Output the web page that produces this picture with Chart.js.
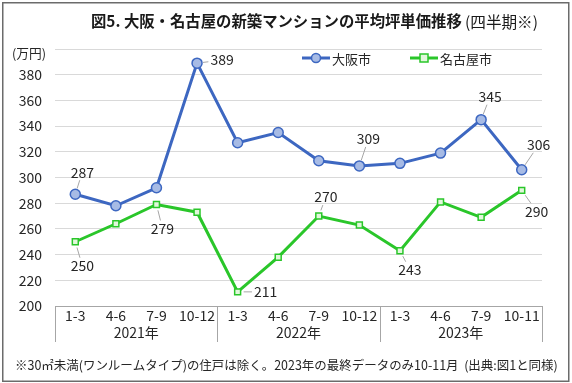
<!DOCTYPE html>
<html>
<head>
<meta charset="utf-8">
<script src="https://cdn.jsdelivr.net/npm/chart.js@4.4.1/dist/chart.umd.min.js"></script>
<style>
html,body{margin:0;padding:0;background:#fff;}
#wrap{width:572px;height:383px;position:relative;}
</style>
</head>
<body>
<div id="wrap"><canvas id="c" width="572" height="383"></canvas></div>
<script>
// ---- data ----
const quarters = ['1-3','4-6','7-9','10-12','1-3','4-6','7-9','10-12','1-3','4-6','7-9','10-11'];
const years = ['2021年','2022年','2023年'];
const osaka = [287, 278, 292, 389, 327, 335, 313, 309, 311, 319, 345, 306];
const nagoya = [250, 264, 279, 273, 211, 238, 270, 263, 243, 281, 269, 290];
const seriesNames = ['大阪市','名古屋市'];
const yTicks = {min:200, max:400, step:20};
const titleMain = '図5. 大阪・名古屋の新築マンションの平均坪単価推移';
const titleSub = '(四半期※)';
const unitLabel = '(万円)';
const footnote = '※30㎡未満(ワンルームタイプ)の住戸は除く。2023年の最終データのみ10-11月  (出典:図1と同様)';

// label placement (index, dx, dy relative to the point)
const osakaLabels = [[0,7,-22],[3,25,-3],[7,9,-27],[10,9,-23],[11,17,-25]];
const nagoyaLabels = [[0,7,24],[2,6,24],[4,28,0],[6,7,-19],[8,10,19],[11,15,21]];

const FONT = '"Noto Sans CJK JP", "Noto Sans", sans-serif';
const BLUE = '#3d67c1', BLUE_FILL = '#a7bbe5';
const GREEN = '#2ac62a', GREEN_FILL = '#e2f7dc';
const TXT = '#262626';

function drawFit(ctx, text, x, y, w, base, weight, color){
  ctx.font = weight + ' ' + base + 'px ' + FONT;
  const m = ctx.measureText(text).width;
  const s = base * w / m;
  ctx.font = weight + ' ' + s.toFixed(2) + 'px ' + FONT;
  ctx.fillStyle = color;
  ctx.textAlign = 'left';
  ctx.textBaseline = 'middle';
  ctx.fillText(text, x, y);
}

const deco = {
  id:'deco',
  afterDraw(chart){
    const ctx = chart.ctx;
    const xs = chart.scales.x, ys = chart.scales.y;
    const ca = chart.chartArea;
    ctx.save();
    // frame
    ctx.strokeStyle = '#6b6b6b';
    ctx.lineWidth = 1.5;
    ctx.strokeRect(2.75, 2.75, 566, 378.5);
    // title
    drawFit(ctx, titleMain, 91, 21, 371, 15, 'bold', '#1a1a1a');
    drawFit(ctx, titleSub, 465, 22, 73, 12, 'normal', '#1a1a1a');
    // unit
    drawFit(ctx, unitLabel, 12, 53, 34, 12, 'normal', TXT);
    // legend
    const legends = [
      {x1:302, x2:330, tx:332, name:seriesNames[0], c:BLUE, f:BLUE_FILL, rect:false},
      {x1:410, x2:438, tx:440, name:seriesNames[1], c:GREEN, f:GREEN_FILL, rect:true}
    ];
    legends.forEach(l=>{
      const ly = 58;
      ctx.strokeStyle = l.c; ctx.lineWidth = 3;
      ctx.beginPath(); ctx.moveTo(l.x1, ly); ctx.lineTo(l.x2, ly); ctx.stroke();
      const cx = (l.x1+l.x2)/2;
      ctx.fillStyle = l.f; ctx.lineWidth = 1.5;
      ctx.beginPath();
      if(l.rect){ ctx.rect(cx-4, ly-4, 8, 8); } else { ctx.arc(cx, ly, 4.5, 0, Math.PI*2); }
      ctx.fill(); ctx.stroke();
      ctx.font = '13px ' + FONT; ctx.fillStyle = TXT;
      ctx.textAlign='left'; ctx.textBaseline='middle';
      ctx.fillText(l.name, l.tx, ly+1);
    });
    // year groups
    ctx.strokeStyle = '#a6a6a6'; ctx.lineWidth = 1;
    const bottom = ca.bottom, sepEnd = 342;
    for(let g=0; g<=years.length; g++){
      let bx;
      if(g===0) bx = ca.left;
      else if(g===years.length) bx = ca.right;
      else bx = (xs.getPixelForValue(g*4-1) + xs.getPixelForValue(g*4))/2;
      ctx.beginPath(); ctx.moveTo(Math.round(bx)+0.5, bottom); ctx.lineTo(Math.round(bx)+0.5, sepEnd); ctx.stroke();
    }
    ctx.font = '14px ' + FONT; ctx.fillStyle = TXT;
    ctx.textAlign = 'center'; ctx.textBaseline = 'middle';
    years.forEach((yr,g)=>{
      const cx = (xs.getPixelForValue(g*4) + xs.getPixelForValue(g*4+3))/2;
      ctx.fillText(yr, cx, 333);
    });
    // data labels
    const drawLabels = (data, specs) => {
      specs.forEach(([i,dx,dy])=>{
        const px = xs.getPixelForValue(i), py = ys.getPixelForValue(data[i]);
        const lx = px+dx, ly = py+dy;
        const txt = String(data[i]);
        ctx.font = '14px ' + FONT;
        const hw = ctx.measureText(txt).width/2 + 2, hh = 8;
        const len = Math.hypot(dx,dy);
        const ux = dx/len, uy = dy/len;
        const sx = px + ux*6, sy = py + uy*6;
        const tX = Math.abs(dx) > 0 ? hw/Math.abs(dx) : Infinity;
        const tY = Math.abs(dy) > 0 ? hh/Math.abs(dy) : Infinity;
        const t = Math.min(tX, tY);
        const ex = lx - dx*t, ey = ly - dy*t;
        if(Math.hypot(ex-sx, ey-sy) > 2 && ((ex-sx)*dx + (ey-sy)*dy) > 0){
          ctx.strokeStyle = '#a6a6a6'; ctx.lineWidth = 1;
          ctx.beginPath(); ctx.moveTo(sx, sy); ctx.lineTo(ex, ey); ctx.stroke();
        }
        ctx.fillStyle = TXT; ctx.textAlign='center'; ctx.textBaseline='middle';
        ctx.fillText(txt, lx, ly);
      });
    };
    drawLabels(osaka, osakaLabels);
    drawLabels(nagoya, nagoyaLabels);
    // footnote
    drawFit(ctx, footnote, 15, 365, 543, 12, 'normal', TXT);
    ctx.restore();
  }
};

new Chart(document.getElementById('c'), {
  type:'line',
  data:{
    labels: quarters,
    datasets:[
      {label:seriesNames[1], data:nagoya, borderColor:GREEN, backgroundColor:GREEN_FILL,
       borderWidth:3, pointStyle:'rect', pointRadius:4.2, pointBorderWidth:1.5,
       pointBackgroundColor:GREEN_FILL, pointBorderColor:GREEN, tension:0},
      {label:seriesNames[0], data:osaka, borderColor:BLUE, backgroundColor:BLUE_FILL,
       borderWidth:3, pointStyle:'circle', pointRadius:5, pointBorderWidth:1.5,
       pointBackgroundColor:BLUE_FILL, pointBorderColor:BLUE, tension:0}
    ]
  },
  options:{
    responsive:false,
    animation:false,
    layout:{padding:{top:49, right:30, left:0, bottom:0}},
    plugins:{legend:{display:false}, title:{display:false}, tooltip:{enabled:false}},
    scales:{
      x:{
        offset:true,
        grid:{display:false, drawTicks:false},
        border:{display:true, color:'#a6a6a6', width:1},
        ticks:{font:{family:FONT, size:14}, color:TXT, padding:1, maxRotation:0, autoSkip:false},
        afterFit(s){ s.height = 77; }
      },
      y:{
        min:yTicks.min, max:yTicks.max,
        grid:{color:'#d9d9d9', lineWidth:1, drawTicks:false},
        border:{display:false},
        ticks:{stepSize:yTicks.step, font:{family:FONT, size:14}, color:TXT, padding:13,
               callback:(v)=> v===yTicks.max ? '' : v},
        afterFit(s){ s.width = 55; }
      }
    }
  },
  plugins:[deco]
});
</script>
</body>
</html>
